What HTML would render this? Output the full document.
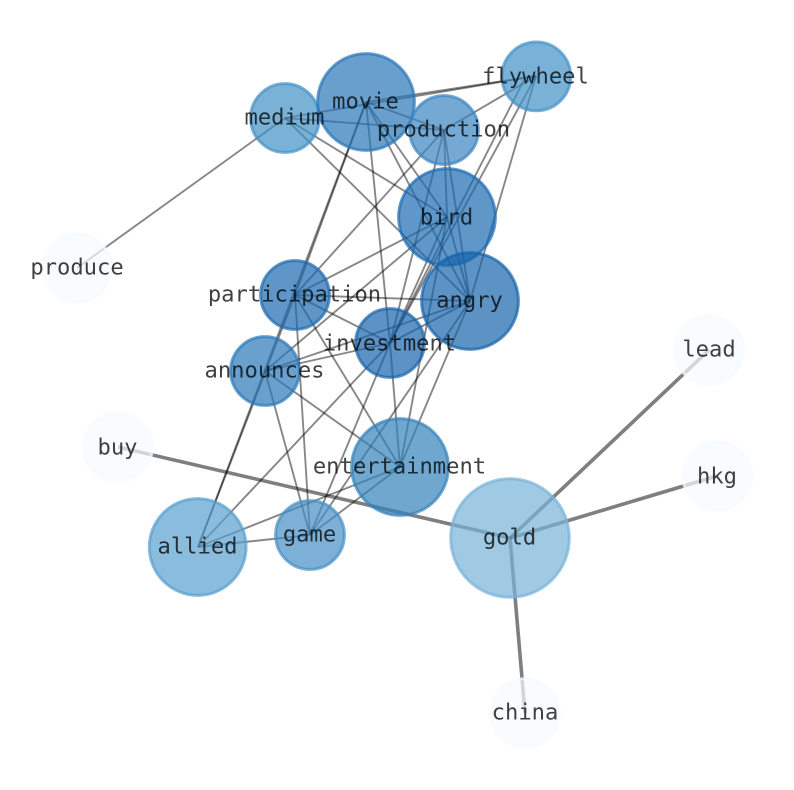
<!DOCTYPE html>
<html><head><meta charset="utf-8"><style>
html,body{margin:0;padding:0;background:#fff;width:794px;height:790px;overflow:hidden}
svg{display:block}
text{font-family:"DejaVu Sans Mono","Liberation Mono",monospace;font-size:22.15px;fill:#000;fill-opacity:.75;text-anchor:middle}
.e line{stroke:#000;stroke-opacity:.47;stroke-width:1.9}
.g line{stroke:#000;stroke-opacity:.5;stroke-width:3.6}
.n circle{stroke-width:3;fill-opacity:.7;stroke-opacity:.7}
</style></head><body>
<svg width="794" height="790" viewBox="0 0 794 790" xmlns="http://www.w3.org/2000/svg">
<g class="e">
<line x1="285" y1="118" x2="536" y2="76"/><line x1="285" y1="118" x2="444" y2="130"/><line x1="285" y1="118" x2="447" y2="217"/><line x1="285" y1="118" x2="470" y2="301"/><line x1="285" y1="118" x2="77" y2="268"/>
<line x1="366" y1="102" x2="536" y2="76"/><line x1="366" y1="102" x2="444" y2="130"/><line x1="366" y1="102" x2="447" y2="217"/><line x1="366" y1="102" x2="470" y2="301"/><line x1="366" y1="102" x2="390" y2="343"/><line x1="366" y1="102" x2="295" y2="295"/><line x1="366" y1="102" x2="198" y2="547"/>
<line x1="444" y1="130" x2="536" y2="76"/><line x1="444" y1="130" x2="447" y2="217"/><line x1="444" y1="130" x2="470" y2="301"/><line x1="444" y1="130" x2="390" y2="343"/><line x1="444" y1="130" x2="295" y2="295"/>
<line x1="536" y1="76" x2="470" y2="301"/><line x1="536" y1="76" x2="390" y2="343"/><line x1="525" y1="78" x2="390" y2="343"/>
<line x1="447" y1="217" x2="470" y2="301"/><line x1="447" y1="217" x2="295" y2="295"/><line x1="447" y1="217" x2="265" y2="371"/><line x1="447" y1="217" x2="390" y2="343"/><line x1="447" y1="217" x2="400" y2="467"/>
<line x1="470" y1="301" x2="295" y2="295"/><line x1="470" y1="301" x2="390" y2="343"/><line x1="470" y1="301" x2="265" y2="371"/><line x1="470" y1="301" x2="400" y2="467"/><line x1="470" y1="301" x2="310" y2="535"/>
<line x1="295" y1="295" x2="390" y2="343"/><line x1="295" y1="295" x2="400" y2="467"/><line x1="295" y1="295" x2="310" y2="535"/><line x1="295" y1="295" x2="198" y2="547"/>
<line x1="390" y1="343" x2="265" y2="371"/><line x1="390" y1="343" x2="400" y2="467"/><line x1="390" y1="343" x2="310" y2="535"/><line x1="390" y1="343" x2="198" y2="547"/>
<line x1="265" y1="371" x2="400" y2="467"/><line x1="265" y1="371" x2="310" y2="535"/>
<line x1="400" y1="467" x2="310" y2="535"/><line x1="400" y1="467" x2="198" y2="547"/><line x1="310" y1="535" x2="198" y2="547"/>
</g>
<g class="g">
<line x1="510" y1="538" x2="118" y2="447"/><line x1="510" y1="538" x2="709" y2="350"/><line x1="510" y1="538" x2="717" y2="476"/><line x1="510" y1="538" x2="525" y2="713"/>
</g>
<g class="n">
<circle cx="77" cy="268" r="34.4" fill="#f7fbff" stroke="#f7fbff"/>
<circle cx="118" cy="447" r="34.4" fill="#f7fbff" stroke="#f7fbff"/>
<circle cx="709" cy="350" r="34.4" fill="#f7fbff" stroke="#f7fbff"/>
<circle cx="717.3" cy="476" r="34.4" fill="#f7fbff" stroke="#f7fbff"/>
<circle cx="525" cy="713" r="34.4" fill="#f7fbff" stroke="#f7fbff"/>
<circle cx="510" cy="538" r="59.3" fill="#78b2d8" stroke="#78b2d8"/>
<circle cx="197.7" cy="547" r="48.4" fill="#589fce" stroke="#589fce"/>
<circle cx="310" cy="535" r="34.4" fill="#458fc4" stroke="#458fc4"/>
<circle cx="400" cy="467" r="48.4" fill="#3382ba" stroke="#3382ba"/>
<circle cx="265" cy="371" r="34.4" fill="#2a78b9" stroke="#2a78b9"/>
<circle cx="295" cy="295" r="34.4" fill="#1c6aaf" stroke="#1c6aaf"/>
<circle cx="390" cy="343" r="34.4" fill="#1764ab" stroke="#1764ab"/>
<circle cx="447" cy="217" r="48.4" fill="#1b6bb2" stroke="#1b6bb2"/>
<circle cx="470" cy="301" r="48.4" fill="#1764ab" stroke="#1764ab"/>
<circle cx="285" cy="118" r="34.4" fill="#4292c6" stroke="#4292c6"/>
<circle cx="366" cy="102" r="48.4" fill="#2a76b8" stroke="#2a76b8"/>
<circle cx="444" cy="130" r="34.4" fill="#3a85c2" stroke="#3a85c2"/>
<circle cx="536.3" cy="76.4" r="34.4" fill="#4292c6" stroke="#4292c6"/>
</g>
<g>
<text x="365.5" y="108.5">movie</text>
<text x="284.5" y="124.5">medium</text>
<text x="443.5" y="136.5">production</text>
<text x="535.5" y="83.5">flywheel</text>
<text x="446.5" y="224.5">bird</text>
<text x="469.5" y="307.5">angry</text>
<text x="294.5" y="301.5">participation</text>
<text x="389.5" y="350.5">investment</text>
<text x="264.5" y="377.5">announces</text>
<text x="399.5" y="473.5">entertainment</text>
<text x="197.5" y="553.5">allied</text>
<text x="309.5" y="541.5">game</text>
<text x="509.5" y="544.5">gold</text>
<text x="77" y="274.5">produce</text>
<text x="117.5" y="454.5">buy</text>
<text x="709" y="356.5">lead</text>
<text x="717" y="483.5">hkg</text>
<text x="525" y="719.5">china</text>
</g>
</svg>
</body></html>
